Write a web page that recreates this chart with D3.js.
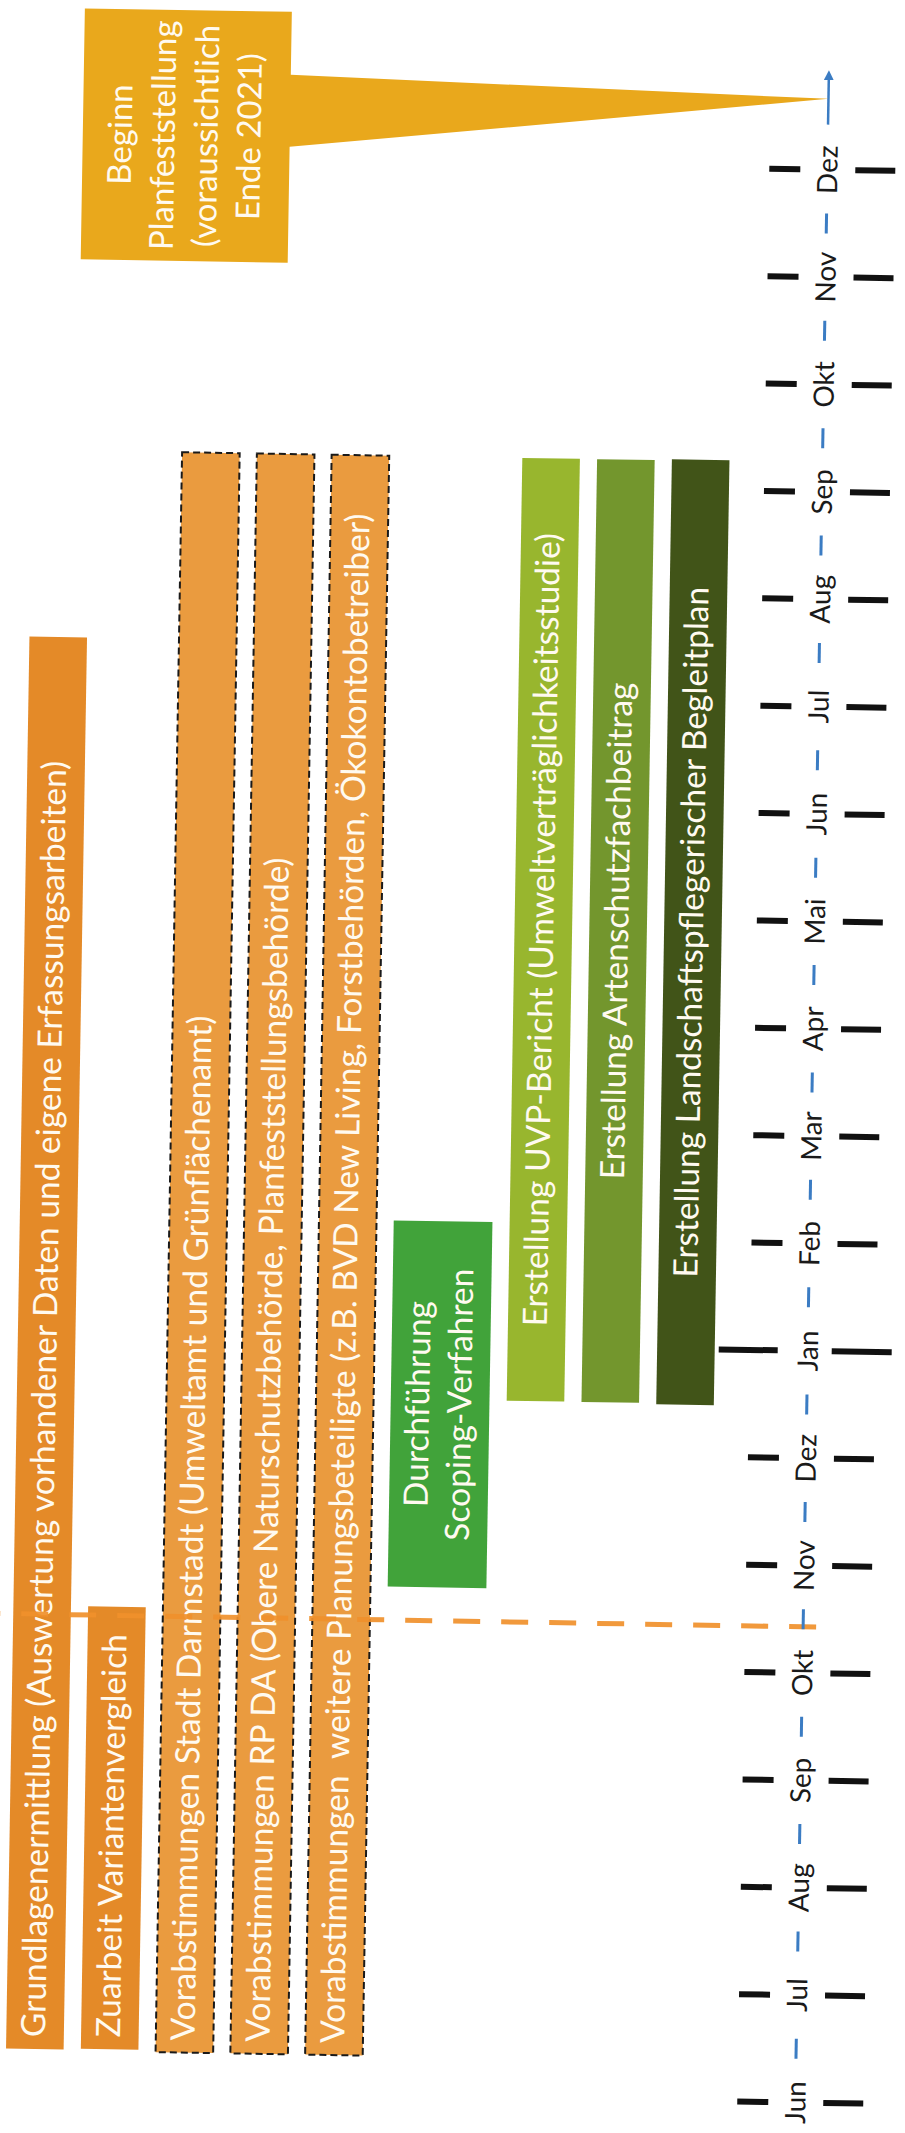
<!DOCTYPE html>
<html><head><meta charset="utf-8">
<script src="https://cdn.jsdelivr.net/npm/d3@7"></script>
<style>
html,body{margin:0;padding:0;background:#fff;}
svg{display:block;}
text{font-family:Lato,"Open Sans",sans-serif;}
</style></head><body>
<svg id="chart" width="905" height="2133"></svg>
<script>
// ---- data ----
const months = ["Jun","Jul","Aug","Sep","Okt","Nov","Dez","Jan","Feb","Mar","Apr","Mai","Jun","Jul","Aug","Sep","Okt","Nov","Dez"];
const tasks = [
  ["Grundlagenermittlung (Auswertung vorhandener Daten und eigene Erfassungsarbeiten)"],
  ["Zuarbeit Variantenvergleich"],
  ["Vorabstimmungen Stadt Darmstadt (Umweltamt und Grünflächenamt)"],
  ["Vorabstimmungen RP DA (Obere Naturschutzbehörde, Planfeststellungsbehörde)"],
  ["Vorabstimmungen  weitere Planungsbeteiligte (z.B. BVD New Living, Forstbehörden, Ökokontobetreiber)"],
  ["Durchführung","Scoping-Verfahren"],
  ["Erstellung UVP-Bericht (Umweltverträglichkeitsstudie)"],
  ["Erstellung Artenschutzfachbeitrag"],
  ["Erstellung Landschaftspflegerischer Begleitplan"]
];
const taskGroups = ["basis","basis","consult","consult","consult","scoping","uvp","arten","lbp"];
const taskStart = [0.38, 0.39, 0.37, 0.37, 0.37, 4.74, 6.49, 6.49, 6.48];
const taskEnd   = [13.53, 4.51, 15.27, 15.27, 15.27, 8.15, 15.27, 15.27, 15.28];
const markerMonth = 4.43;
const calloutLines = ["Beginn","Planfeststellung","(voraussichtlich","Ende 2021)"];
const calloutMonth = 18.66;

// ---- layout ----
const svg = d3.select("#chart");
svg.append("rect").attr("width",905).attr("height",2133).attr("fill","#fff");
const g = svg.append("g").attr("transform","rotate(0.95)");

const y = d3.scaleLinear().domain([0, months.length - 1]).range([2089, 156]);
const axisX = 830;

const color = d3.scaleOrdinal()
  .domain(["basis","consult","scoping","uvp","arten","lbp"])
  .range(["#e48a28","#ea9b3f","#41a33a","#98b62e","#73962d","#415418"]);

const laneUnits = taskGroups.map(k => k === "scoping" ? 1.55 : 1);
let acc = 0;
const laneStart = laneUnits.map(u => { const s = acc; acc += u; return s; });
const gapU = 0.23;
const x = d3.scaleLinear()
  .domain([0, laneStart[laneStart.length - 1] + 1 - gapU])
  .range([40, 737]);

const items = tasks.map((t, i) => ({
  lines: t, group: taskGroups[i], s: taskStart[i], e: taskEnd[i],
  x0: x(laneStart[i]), w: x(laneStart[i] + laneUnits[i] - gapU) - x(laneStart[i])
}));

// bars
g.selectAll("rect.bar").data(items).join("rect")
  .attr("class","bar")
  .attr("x", d => d.x0)
  .attr("y", d => y(d.e))
  .attr("width", d => d.w)
  .attr("height", d => y(d.s) - y(d.e))
  .attr("fill", d => color(d.group))
  .attr("stroke", d => d.group === "consult" ? "#1a1a1a" : "none")
  .attr("stroke-width", 2)
  .attr("stroke-dasharray", "7,4");

// bar labels
const fs = 33.5;
items.forEach(d => {
  const cx = d.x0 + d.w / 2;
  const centered = !(d.group === "basis" || d.group === "consult");
  const yy = centered ? (y(d.s) + y(d.e)) / 2 : y(d.s) - 12;
  const t = g.append("text")
    .attr("transform", `translate(${cx},${yy}) rotate(-90)`)
    .attr("text-anchor", centered ? "middle" : "start")
    .attr("fill", "#fffaf0")
    .attr("font-size", fs)
    .style("white-space", "pre");
  const n = d.lines.length;
  d.lines.forEach((ln, j) => {
    t.append("tspan")
      .attr("x", 0)
      .attr("y", (j - (n - 1) / 2) * 42)
      .attr("dy", "0.3em")
      .text(ln);
  });
});

// milestone dashed line
g.append("line")
  .attr("x1", 0).attr("x2", axisX + 14)
  .attr("y1", y(markerMonth)).attr("y2", y(markerMonth))
  .attr("stroke", "#f0912c").attr("stroke-width", 5)
  .attr("stroke-dasharray", "27,21").attr("opacity", 0.92);

// axis: blue dashes between months
const mids = d3.range(months.length - 1).map(i => (y(i) + y(i + 1)) / 2);
g.selectAll("line.bd").data(mids).join("line")
  .attr("class","bd")
  .attr("x1", axisX).attr("x2", axisX)
  .attr("y1", d => d - 10).attr("y2", d => d + 10)
  .attr("stroke", "#3b7cc3").attr("stroke-width", 3);

// top arrow of the axis
const defs = svg.append("defs");
defs.append("marker").attr("id","arr").attr("viewBox","0 0 10 10")
  .attr("refX",5).attr("refY",5).attr("markerWidth",4).attr("markerHeight",4)
  .attr("orient","auto")
  .append("path").attr("d","M0,0 L10,5 L0,10 Z").attr("fill","#3b7cc3");
g.append("line")
  .attr("x1", axisX).attr("x2", axisX)
  .attr("y1", y(18.42)).attr("y2", y(18.88))
  .attr("stroke", "#3b7cc3").attr("stroke-width", 2.5)
  .attr("marker-end", "url(#arr)");

// black tick marks at each month
const ticks = months.map((m, i) => ({ m, i, jan: m === "Jan" }));
g.selectAll("line.tl").data(ticks).join("line")
  .attr("class","tl")
  .attr("x1", d => axisX - (d.jan ? 89 : 58))
  .attr("x2", d => axisX - (d.jan ? 30 : 27))
  .attr("y1", d => y(d.i)).attr("y2", d => y(d.i))
  .attr("stroke", "#111").attr("stroke-width", 6);
g.selectAll("line.tr").data(ticks).join("line")
  .attr("class","tr")
  .attr("x1", d => axisX + (d.jan ? 24 : 28))
  .attr("x2", d => axisX + (d.jan ? 84 : 68))
  .attr("y1", d => y(d.i)).attr("y2", d => y(d.i))
  .attr("stroke", "#111").attr("stroke-width", 6);

// month labels
g.selectAll("text.month").data(ticks).join("text")
  .attr("class","month")
  .attr("transform", d => `translate(${axisX},${y(d.i)}) rotate(-90)`)
  .attr("text-anchor","middle")
  .attr("dy","0.36em")
  .attr("font-size", 28)
  .attr("fill","#1a1a1a")
  .text(d => d.m);

// callout
const bx0 = 85, bx1 = 292, by0 = 7, by1 = 258;
const tipY = y(calloutMonth);
g.append("path")
  .attr("d", `M${bx0},${by0} H${bx1} V70 L${axisX},${tipY} L${bx1},142 V${by1} H${bx0} Z`)
  .attr("fill", "#e9a81c");
const ct = g.append("text")
  .attr("transform", `translate(${(bx0 + bx1) / 2},${(by0 + by1) / 2}) rotate(-90)`)
  .attr("text-anchor","middle")
  .attr("fill","#fffaf0")
  .attr("font-size", 33);
calloutLines.forEach((ln, j) => {
  ct.append("tspan").attr("x", 0)
    .attr("y", (j - (calloutLines.length - 1) / 2) * 43)
    .attr("dy","0.3em").text(ln);
});
</script>
</body></html>
